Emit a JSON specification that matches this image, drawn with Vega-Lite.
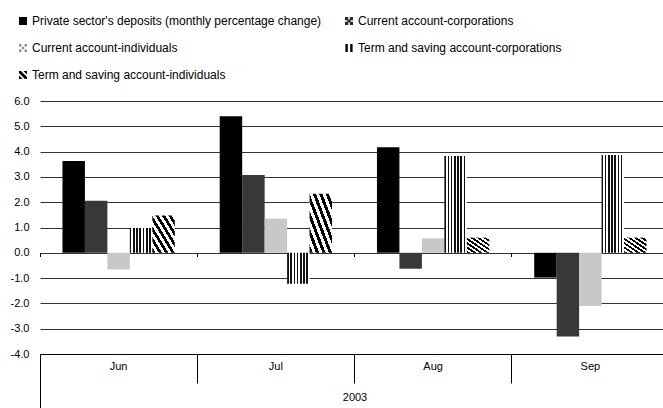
{
  "$schema": "https://vega.github.io/schema/vega-lite/v6.json",
  "autosize": "none",
  "width": 623,
  "height": 253,
  "padding": {"left": 40, "top": 101, "right": 0, "bottom": 54},
  "background": "white",
  "config": {
    "font": "Liberation Sans",
    "view": {"stroke": null},
    "axis": {"labelFont": "Liberation Sans", "titleFont": "Liberation Sans", "labelColor": "#000", "titleColor": "#000"}
  },
  "data": {
    "values": [
      {"month": "Jun", "series": "Private sector's deposits (monthly percentage change)", "value": 3.63},
      {"month": "Jun", "series": "Current account-corporations", "value": 2.06},
      {"month": "Jun", "series": "Current account-individuals", "value": -0.66},
      {"month": "Jun", "series": "Term and saving account-corporations", "value": 0.98},
      {"month": "Jun", "series": "Term and saving account-individuals", "value": 1.47},
      {"month": "Jul", "series": "Private sector's deposits (monthly percentage change)", "value": 5.4},
      {"month": "Jul", "series": "Current account-corporations", "value": 3.08},
      {"month": "Jul", "series": "Current account-individuals", "value": 1.35},
      {"month": "Jul", "series": "Term and saving account-corporations", "value": -1.22},
      {"month": "Jul", "series": "Term and saving account-individuals", "value": 2.33},
      {"month": "Aug", "series": "Private sector's deposits (monthly percentage change)", "value": 4.17},
      {"month": "Aug", "series": "Current account-corporations", "value": -0.63},
      {"month": "Aug", "series": "Current account-individuals", "value": 0.57},
      {"month": "Aug", "series": "Term and saving account-corporations", "value": 3.83},
      {"month": "Aug", "series": "Term and saving account-individuals", "value": 0.6},
      {"month": "Sep", "series": "Private sector's deposits (monthly percentage change)", "value": -0.98},
      {"month": "Sep", "series": "Current account-corporations", "value": -3.31},
      {"month": "Sep", "series": "Current account-individuals", "value": -2.1},
      {"month": "Sep", "series": "Term and saving account-corporations", "value": 3.87},
      {"month": "Sep", "series": "Term and saving account-individuals", "value": 0.6}
    ]
  },
  "layer": [
    {
      "mark": {"type": "bar", "strokeWidth": 0},
      "encoding": {
        "x": {
          "field": "month", "type": "nominal", "sort": ["Jun", "Jul", "Aug", "Sep"],
          "scale": {"paddingInner": 0, "paddingOuter": 0, "range": [0, 629]},
          "axis": {
            "orient": "bottom",
            "title": "2003", "titleFontSize": 11, "titleFontWeight": "normal", "titleY": 43, "titleBaseline": "middle",
            "labelAngle": 0, "labelFontSize": 11, "labelBaseline": "middle",
            "labelPadding": {"condition": {"test": "datum.value === 'Jun'", "value": -42}, "value": -17},
            "bandPosition": 0,
            "tickSize": {"condition": {"test": "datum.value === 'Jun'", "value": 54}, "value": 29},
            "tickColor": "#000", "tickWidth": 1,
            "domainColor": "#000", "domainWidth": 1,
            "grid": false
          }
        },
        "xOffset": {
          "field": "series", "type": "nominal",
          "sort": ["Private sector's deposits (monthly percentage change)", "Current account-corporations", "Current account-individuals", "Term and saving account-corporations", "Term and saving account-individuals"],
          "scale": {"paddingInner": 0, "paddingOuter": 1.49}
        },
        "y": {
          "field": "value", "type": "quantitative",
          "scale": {"domain": [-4, 6], "nice": false, "zero": false},
          "axis": {
            "title": null, "values": [-4, -3, -2, -1, 0, 1, 2, 3, 4, 5, 6],
            "labelExpr": "(datum.value < 0 ? '-' : '') + format(abs(datum.value), '.1f')",
            "labelFontSize": 11, "ticks": false, "domain": false, "labelPadding": 11,
            "grid": true, "gridColor": "#333333", "gridWidth": 1
          }
        },
        "fill": {
          "condition": [
            {"test": "datum.series === 'Current account-corporations'", "value": "#383838"},
            {"test": "datum.series === 'Current account-individuals'", "value": "#c8c8c8"},
            {"test": "datum.series === 'Term and saving account-corporations'", "value": {"gradient": "linear", "x1": 0, "y1": 0, "x2": 1, "y2": 0, "stops": [
                {"offset": 0, "color": "#111"}, {"offset": 0.0714, "color": "#111"}, {"offset": 0.0714, "color": "#fff"}, {"offset": 0.1429, "color": "#fff"},
                {"offset": 0.1429, "color": "#111"}, {"offset": 0.2143, "color": "#111"}, {"offset": 0.2143, "color": "#fff"}, {"offset": 0.2857, "color": "#fff"},
                {"offset": 0.2857, "color": "#111"}, {"offset": 0.3571, "color": "#111"}, {"offset": 0.3571, "color": "#fff"}, {"offset": 0.4286, "color": "#fff"},
                {"offset": 0.4286, "color": "#111"}, {"offset": 0.5, "color": "#111"}, {"offset": 0.5, "color": "#fff"}, {"offset": 0.5714, "color": "#fff"},
                {"offset": 0.5714, "color": "#111"}, {"offset": 0.6429, "color": "#111"}, {"offset": 0.6429, "color": "#fff"}, {"offset": 0.7143, "color": "#fff"},
                {"offset": 0.7143, "color": "#111"}, {"offset": 0.7857, "color": "#111"}, {"offset": 0.7857, "color": "#fff"}, {"offset": 0.8571, "color": "#fff"},
                {"offset": 0.8571, "color": "#111"}, {"offset": 0.9286, "color": "#111"}, {"offset": 0.9286, "color": "#fff"}, {"offset": 1, "color": "#fff"}
              ]}},
            {"test": "datum.series === 'Term and saving account-individuals'", "value": {"gradient": "linear", "x1": 0, "y1": 1, "x2": 1, "y2": 0, "stops": [
                {"offset": 0, "color": "#000"}, {"offset": 0.0714, "color": "#000"}, {"offset": 0.0714, "color": "#fff"}, {"offset": 0.1429, "color": "#fff"},
                {"offset": 0.1429, "color": "#000"}, {"offset": 0.2143, "color": "#000"}, {"offset": 0.2143, "color": "#fff"}, {"offset": 0.2857, "color": "#fff"},
                {"offset": 0.2857, "color": "#000"}, {"offset": 0.3571, "color": "#000"}, {"offset": 0.3571, "color": "#fff"}, {"offset": 0.4286, "color": "#fff"},
                {"offset": 0.4286, "color": "#000"}, {"offset": 0.5, "color": "#000"}, {"offset": 0.5, "color": "#fff"}, {"offset": 0.5714, "color": "#fff"},
                {"offset": 0.5714, "color": "#000"}, {"offset": 0.6429, "color": "#000"}, {"offset": 0.6429, "color": "#fff"}, {"offset": 0.7143, "color": "#fff"},
                {"offset": 0.7143, "color": "#000"}, {"offset": 0.7857, "color": "#000"}, {"offset": 0.7857, "color": "#fff"}, {"offset": 0.8571, "color": "#fff"},
                {"offset": 0.8571, "color": "#000"}, {"offset": 0.9286, "color": "#000"}, {"offset": 0.9286, "color": "#fff"}, {"offset": 1, "color": "#fff"}
              ]}}
          ],
          "value": "#000000"
        }
      }
    },
    {
      "transform": [{"filter": "false"}],
      "mark": {"type": "point", "filled": true, "opacity": 1},
      "encoding": {
        "fill": {
          "field": "series", "type": "nominal",
          "scale": {
            "domain": ["Private sector's deposits (monthly percentage change)", "Current account-corporations", "Current account-individuals", "Term and saving account-corporations", "Term and saving account-individuals"],
            "range": ["#000000", "#2a2a2a", "#8a8a8a", "#000000", "#000000"]
          },
          "legend": {
            "title": null, "orient": "none", "legendX": -23, "legendY": -86,
            "direction": "horizontal", "columns": 2, "padding": 0,
            "symbolSize": 64, "symbolStrokeWidth": 0, "symbolOpacity": 1,
            "labelFont": "Liberation Sans", "labelFontSize": 12, "labelColor": "#000", "labelLimit": 400,
            "labelOffset": 3, "columnPadding": 21, "rowPadding": 15
          }
        },
        "shape": {
          "field": "series", "type": "nominal",
          "scale": {
            "domain": ["Private sector's deposits (monthly percentage change)", "Current account-corporations", "Current account-individuals", "Term and saving account-corporations", "Term and saving account-individuals"],
            "range": [
              "square",
              "M-1,-1H-0.2V-0.2H-1Z M0.2,-1H1V-0.2H0.2Z M-1,0.2H-0.2V1H-1Z M0.2,0.2H1V1H0.2Z M-0.4,-0.4H0.4V0.4H-0.4Z",
              "M-1,-1H-0.4V-0.4H-1Z M0.4,-1H1V-0.4H0.4Z M-0.3,-0.3H0.3V0.3H-0.3Z M-1,0.4H-0.4V1H-1Z M0.4,0.4H1V1H0.4Z",
              "M-0.9,-1H-0.3V1H-0.9Z M0.3,-1H0.9V1H0.3Z",
              "M-1,-1L-0.5,-1L1,0.5L1,1L0.5,1L-1,-0.5Z M0.1,-1L1,-1L1,-0.1Z M-1,0.1L-1,1L-0.1,1Z"
            ]
          },
          "legend": {
            "title": null, "orient": "none", "legendX": -23, "legendY": -86,
            "direction": "horizontal", "columns": 2, "padding": 0,
            "symbolSize": 64, "symbolStrokeWidth": 0, "symbolOpacity": 1,
            "labelFont": "Liberation Sans", "labelFontSize": 12, "labelColor": "#000", "labelLimit": 400,
            "labelOffset": 3, "columnPadding": 21, "rowPadding": 15
          }
        }
      }
    },
    {
      "mark": {"type": "bar", "opacity": 0},
      "encoding": {
        "x": {
          "field": "month", "type": "nominal", "sort": ["Jun", "Jul", "Aug", "Sep"],
          "axis": {
            "orient": "bottom", "offset": -101.5, "title": null, "labels": false, "domain": false,
            "bandPosition": 0, "tickSize": 4, "tickColor": "#000", "grid": false
          }
        }
      }
    }
  ],
  "resolve": {"axis": {"x": "independent"}}
}
